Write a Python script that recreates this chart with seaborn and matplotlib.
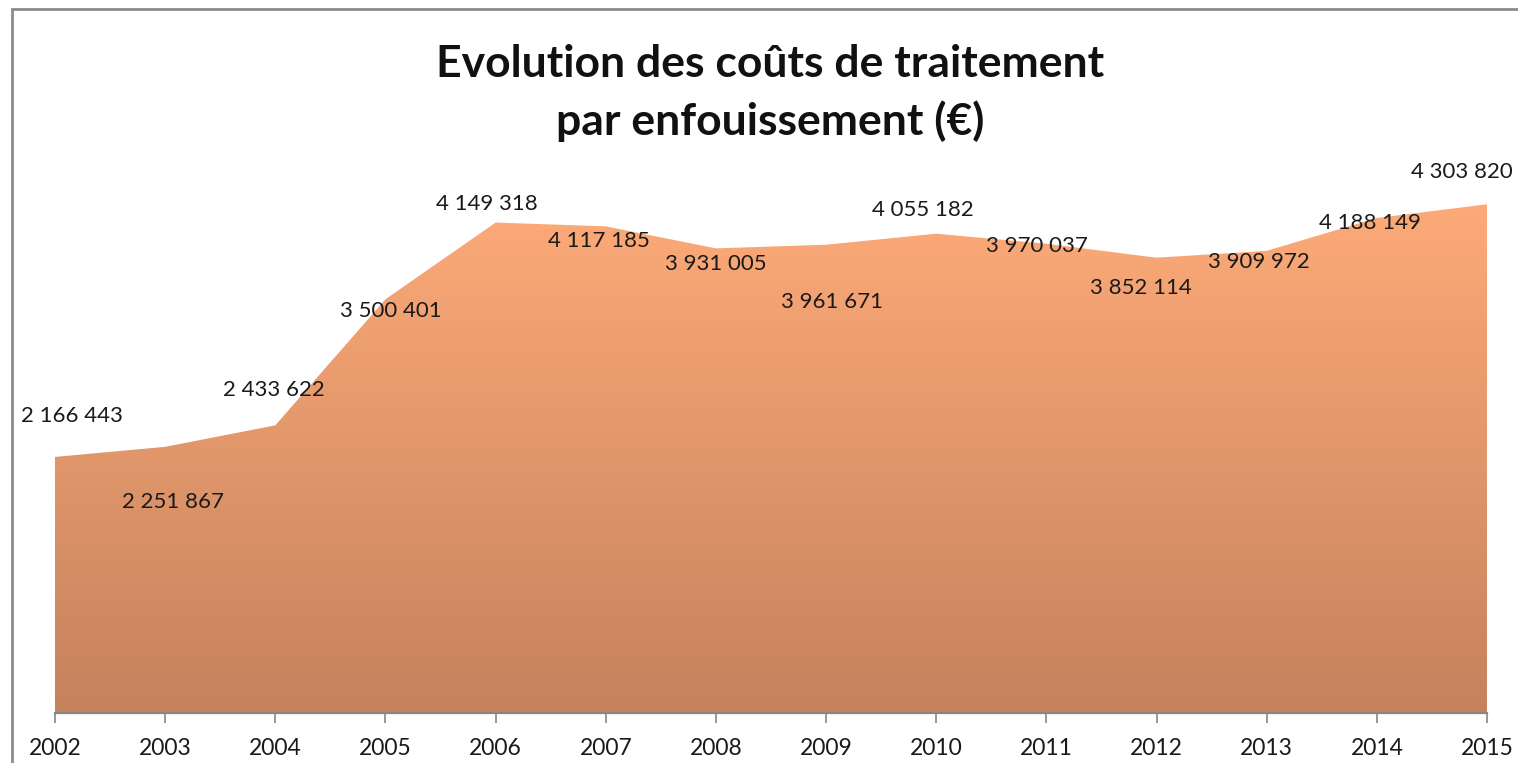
import numpy as np
import matplotlib.pyplot as plt
import seaborn as sns
from matplotlib.colors import LinearSegmentedColormap
from matplotlib.patches import Rectangle

years = [2002, 2003, 2004, 2005, 2006, 2007, 2008, 2009, 2010, 2011, 2012, 2013, 2014, 2015]
costs = [2166443, 2251867, 2433622, 3500401, 4149318, 4117185, 3931005, 3961671,
         4055182, 3970037, 3852114, 3909972, 4188149, 4303820]
# label offsets in pixels (dx, dy) relative to each point, as laid out in the original
label_dx = [17, 8, -1, 5, -9, -7, 0, 6, -13, -9, -16, -8, -7, -25]
label_dy = [41, -55, 35, -12, 19, -15, -16, -57, 24, -2, -30, -11, -5, 32]

sns.set_style("white")
plt.rcParams['font.family'] = ['Lato', 'DejaVu Sans']

W, H = 1518, 763
fig = plt.figure(figsize=(W / 100, H / 100), dpi=100)
ax = fig.add_axes([55 / W, 1 - 713 / H, (1487 - 55) / W, (713 - 122) / H])

sns.lineplot(x=years, y=costs, ax=ax, color='#FDAA78', linewidth=0)
poly = ax.fill_between(years, 0, costs, color='none', linewidth=0)

# vertical gradient, light orange at top to brown at bottom
cmap = LinearSegmentedColormap.from_list('grad', ['#C5825D', '#FDAA78'])
grad = np.linspace(0, 1, 256).reshape(-1, 1)
img = ax.imshow(grad, cmap=cmap, aspect='auto', origin='lower',
                extent=[2002, 2015, 0, 4303820], zorder=1)
img.set_clip_path(poly.get_paths()[0], transform=ax.transData)

ax.set_xlim(2002, 2015)
ax.set_ylim(0, 5000000)
ax.set_xticks(years)
ax.set_xticklabels([str(y) for y in years], fontsize=16.5, color='#1a1a1a')
ax.set_yticks([])
for s in ['top', 'right', 'left']:
    ax.spines[s].set_visible(False)
ax.spines['bottom'].set_color('#868686')
ax.spines['bottom'].set_linewidth(1.6)
ax.tick_params(axis='x', direction='out', length=7, width=1.2, color='#868686', pad=11, bottom=True)

for x, y, dx, dy in zip(years, costs, label_dx, label_dy):
    txt = f"{y:,}".replace(',', ' ')
    ax.annotate(txt, (x, y), xytext=(dx * 0.72, dy * 0.72), textcoords='offset points',
                ha='center', va='center', fontsize=16, color='#1a1a1a', annotation_clip=False)

fig.text(770 / W, 1 - 93 / H, "Evolution des coûts de traitement\npar enfouissement (€)",
         ha='center', va='center', fontsize=32, fontweight='bold', linespacing=1.45,
         color='#111111')

fig.patches.append(Rectangle((11.5 / W, -0.1), 1.2, 1 - 9.5 / H + 0.1, transform=fig.transFigure,
                             fill=False, edgecolor='#8C8C8C', linewidth=2))

fig.savefig('out.png', dpi=100)
